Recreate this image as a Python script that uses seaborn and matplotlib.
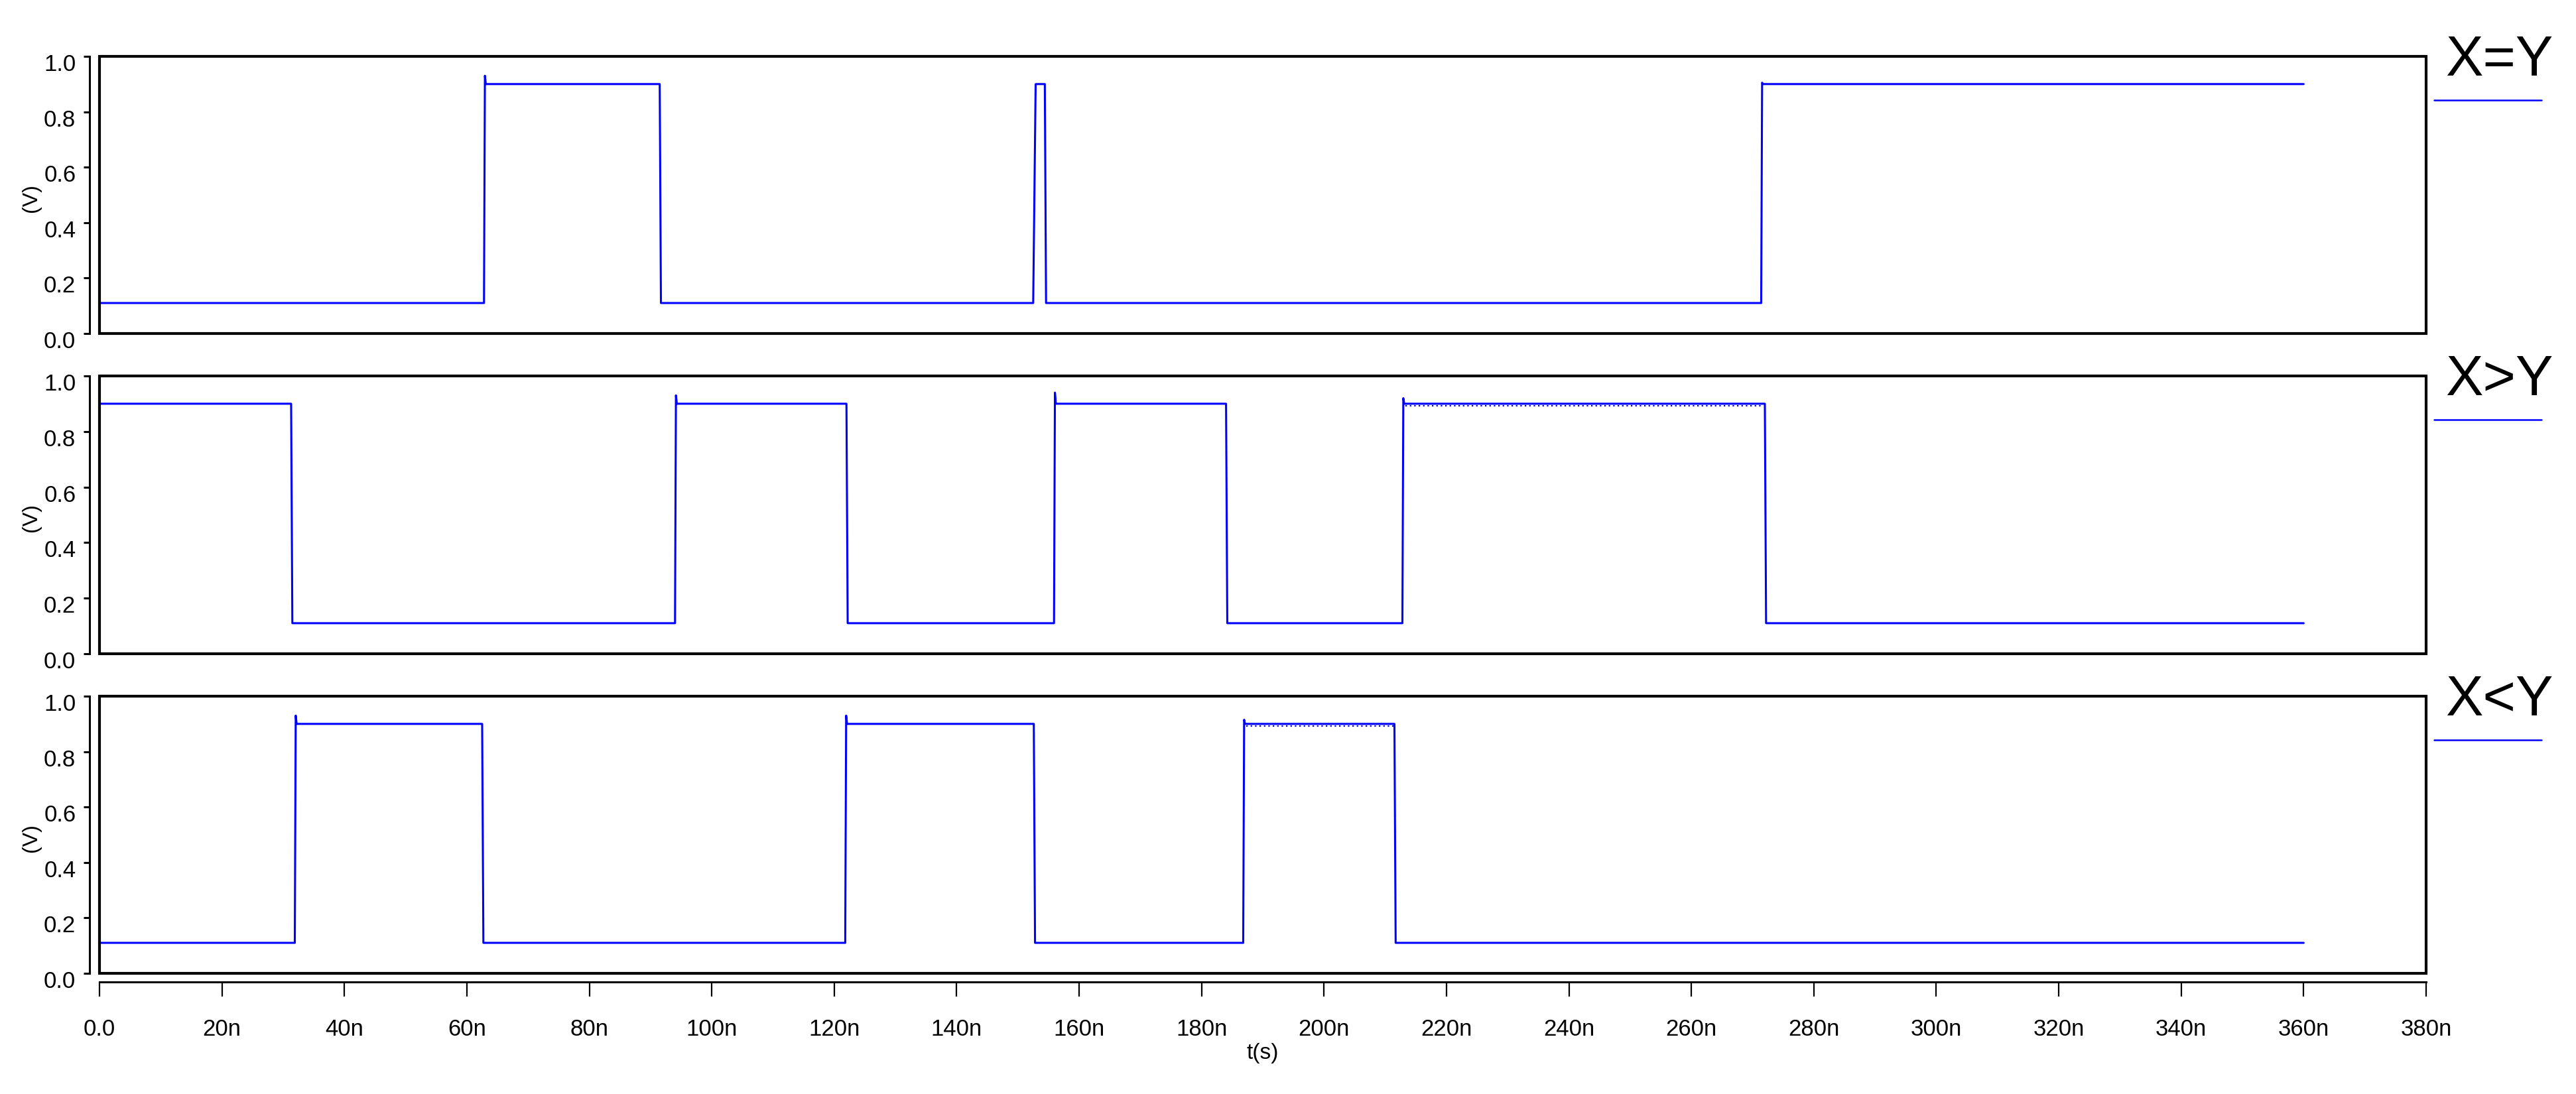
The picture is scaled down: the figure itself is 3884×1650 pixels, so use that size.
import numpy as np
import pandas as pd
import matplotlib
matplotlib.use("Agg")
import matplotlib.pyplot as plt
import seaborn as sns
from matplotlib.patches import Rectangle
from matplotlib.lines import Line2D
from matplotlib.transforms import ScaledTranslation

# ---------------- data (time in ns, voltage in V) ----------------
t_eq = [0, 62.8, 62.95, 63.1, 91.5, 91.7, 152.5, 152.9, 154.4, 154.6, 271.4, 271.55, 271.7, 360]
v_eq = [0.11, 0.11, 0.93, 0.90, 0.90, 0.11, 0.11, 0.90, 0.90, 0.11, 0.11, 0.905, 0.90, 0.90]

t_gt = [0, 31.3, 31.5, 94.0, 94.15, 94.3, 122.0, 122.2, 155.9, 156.05, 156.2,
        184.0, 184.2, 212.8, 212.95, 213.1, 272.0, 272.2, 360]
v_gt = [0.90, 0.90, 0.11, 0.11, 0.93, 0.90, 0.90, 0.11, 0.11, 0.94, 0.90,
        0.90, 0.11, 0.11, 0.92, 0.90, 0.90, 0.11, 0.11]

t_lt = [0, 31.9, 32.05, 32.2, 62.5, 62.7, 121.8, 121.95, 122.1, 152.6, 152.8,
        186.8, 186.95, 187.1, 211.5, 211.7, 360]
v_lt = [0.11, 0.11, 0.93, 0.90, 0.90, 0.11, 0.11, 0.93, 0.90, 0.90, 0.11,
        0.11, 0.915, 0.90, 0.90, 0.11, 0.11]

# small ripple visible on the flat tops
ripple_gt_t = [213.3, 271.8]
ripple_gt_v = [0.893, 0.893]
ripple_lt_t = [187.3, 211.3]
ripple_lt_v = [0.893, 0.893]

signal_labels = ["X=Y", "X>Y", "X<Y"]
x_ticks = list(range(0, 381, 20))
x_tick_labels = ["0.0"] + [f"{v}n" for v in range(20, 381, 20)]
y_ticks = [0.0, 0.2, 0.4, 0.6, 0.8, 1.0]
y_tick_labels = ["0.0", "0.2", "0.4", "0.6", "0.8", "1.0"]
x_label = "t(s)"
y_label = "(V)"

# ---------------- style ----------------
sns.set_style("white")
plt.rcParams['font.family'] = ['Liberation Sans', 'DejaVu Sans']

W, H, DPI = 3884, 1650, 100
BLUE = "#0000ff"
fig = plt.figure(figsize=(W / DPI, H / DPI), dpi=DPI)
fig.patch.set_facecolor("white")

panels_px = [(85, 503), (567, 986), (1050, 1468)]
series = [(t_eq, v_eq, None, None),
          (t_gt, v_gt, ripple_gt_t, ripple_gt_v),
          (t_lt, v_lt, ripple_lt_t, ripple_lt_v)]
left_px, right_px = 150, 3658

for i, ((top, bot), (ts, vs, rt, rv)) in enumerate(zip(panels_px, series)):
    ax = fig.add_axes([left_px / W, 1 - bot / H, (right_px - left_px) / W, (bot - top) / H])
    ax.set_facecolor("white")
    df = pd.DataFrame({"t": ts, "v": vs})
    sns.lineplot(data=df, x="t", y="v", ax=ax, color=BLUE, linewidth=2.2,
                 estimator=None, sort=False, legend=False)
    if rt is not None:
        dfr = pd.DataFrame({"t": rt, "v": rv})
        sns.lineplot(data=dfr, x="t", y="v", ax=ax, color=BLUE, linewidth=1.6,
                     linestyle=(0, (1, 2)), estimator=None, sort=False, legend=False)
    ax.set_xlim(0, 380)
    ax.set_ylim(0, 1)

    # plot frame box
    ax.add_patch(Rectangle((0, 0), 1, 1, transform=ax.transAxes, fill=False,
                           ec="black", lw=3.0, clip_on=False, zorder=5))
    for s in ["top", "right", "bottom"]:
        ax.spines[s].set_visible(False)
    ax.spines["left"].set_position(("outward", 11))
    ax.spines["left"].set_linewidth(2.2)
    ax.spines["left"].set_color("black")

    ax.set_yticks(y_ticks)
    ax.set_yticklabels(y_tick_labels)
    ax.tick_params(axis="y", direction="out", length=6.7, width=2.2, pad=8,
                   labelsize=25, left=True, color="black", labelcolor="black")
    for lab in ax.get_yticklabels():
        lab.set_transform(lab.get_transform() + ScaledTranslation(0, -9 / DPI, fig.dpi_scale_trans))

    ax.set_ylabel(y_label, fontsize=23, color="black")
    ax.yaxis.label.set_va("center")
    ax.yaxis.set_label_coords((47 - left_px) / (right_px - left_px), 0.49)

    if i < 2:
        ax.set_xticks([])
        ax.set_xlabel("")
    else:
        ax.spines["bottom"].set_visible(True)
        ax.spines["bottom"].set_position(("outward", 9))
        ax.spines["bottom"].set_linewidth(2.2)
        ax.spines["bottom"].set_color("black")
        ax.set_xticks(x_ticks)
        ax.set_xticklabels(x_tick_labels)
        ax.tick_params(axis="x", direction="out", length=15.8, width=1.6, pad=24,
                       labelsize=25, bottom=True, color="black", labelcolor="black")
        ax.set_xlabel("")

    # right-side legend label and line
    fig.text(3687 / W, 1 - (top + 29) / H, signal_labels[i], fontsize=61,
             ha="left", va="baseline", color="black")
    fig.add_artist(Line2D([3670 / W, 3832 / W], [1 - (top + 66) / H] * 2,
                          transform=fig.transFigure, color=BLUE, lw=1.8))

fig.text(1904 / W, 1 - 1588 / H, x_label, fontsize=24, ha="center", va="center", color="black")

fig.savefig("out.png", dpi=DPI, facecolor="white")
